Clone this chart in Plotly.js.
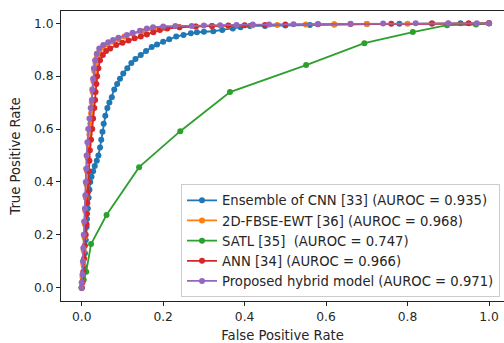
<!DOCTYPE html>
<html>
<head>
<meta charset="utf-8">
<script src="https://cdn.plot.ly/plotly-3.0.1.min.js"></script>
<style>html,body{margin:0;padding:0;overflow:hidden;background:#fff;}</style>
</head>
<body>
<div id="chart" style="width:504px;height:343px;"></div>
<script>
const seriesNames = [
  "Ensemble of CNN [33] (AUROC = 0.935)",
  "2D-FBSE-EWT [36] (AUROC = 0.968)",
  "SATL [35]  (AUROC = 0.747)",
  "ANN [34] (AUROC = 0.966)",
  "Proposed hybrid model (AUROC = 0.971)"
];
const seriesColors = ["#1f77b4", "#ff7f0e", "#2ca02c", "#d62728", "#9467bd"];

const cnnFpr = [0,0.003,0.006,0.008,0.010,0.012,0.013,0.015,0.017,0.019,0.021,0.024,0.028,0.032,0.037,0.041,0.045,0.048,0.051,0.054,0.058,0.063,0.068,0.074,0.080,0.087,0.094,0.102,0.112,0.122,0.132,0.145,0.158,0.172,0.185,0.200,0.215,0.232,0.250,0.268,0.283,0.300,0.323,0.345,0.371,0.390,0.413,0.45,0.50,0.56,0.62,0.70,0.78,0.86,0.93,1.0];
const cnnTpr = [0,0.03,0.08,0.13,0.18,0.23,0.26,0.30,0.34,0.37,0.40,0.42,0.44,0.46,0.48,0.50,0.53,0.56,0.59,0.62,0.65,0.68,0.70,0.72,0.75,0.77,0.79,0.81,0.83,0.85,0.865,0.88,0.895,0.91,0.92,0.93,0.94,0.95,0.956,0.962,0.966,0.968,0.970,0.975,0.980,0.985,0.99,0.99,0.992,0.994,0.995,0.997,0.998,0.999,1.0,1.0];

const fbseFpr = [0,0.002,0.004,0.005,0.007,0.008,0.009,0.010,0.012,0.013,0.015,0.017,0.019,0.021,0.023,0.025,0.027,0.029,0.031,0.034,0.038,0.044,0.052,0.062,0.075,0.090,0.105,0.125,0.150,0.175,0.20,0.24,0.28,0.32,0.36,0.42,0.48,0.55,0.62,0.70,0.80,0.90,1.0];
const fbseTpr = [0,0.04,0.09,0.14,0.19,0.24,0.29,0.34,0.39,0.44,0.49,0.54,0.58,0.62,0.66,0.70,0.74,0.78,0.82,0.85,0.875,0.895,0.91,0.92,0.93,0.94,0.95,0.96,0.97,0.978,0.982,0.985,0.988,0.99,0.991,0.993,0.994,0.995,0.996,0.997,0.998,0.999,1.0];

const satlFpr = [0,0.005,0.011,0.023,0.061,0.141,0.242,0.364,0.551,0.694,0.813,0.897,0.968,1.0];
const satlTpr = [0,0.03,0.06,0.165,0.275,0.456,0.592,0.74,0.842,0.925,0.967,0.993,0.995,1.0];

const annFpr = [0,0.002,0.004,0.006,0.008,0.010,0.012,0.013,0.014,0.015,0.016,0.018,0.019,0.020,0.023,0.026,0.028,0.031,0.033,0.034,0.036,0.038,0.041,0.045,0.052,0.060,0.070,0.085,0.100,0.115,0.130,0.145,0.160,0.176,0.192,0.21,0.24,0.28,0.32,0.36,0.40,0.45,0.50,0.58,0.66,0.76,0.86,0.95,1.0];
const annTpr = [0,0.02,0.06,0.11,0.16,0.20,0.24,0.28,0.32,0.36,0.40,0.44,0.48,0.52,0.56,0.60,0.64,0.68,0.71,0.74,0.77,0.80,0.83,0.86,0.88,0.895,0.905,0.918,0.926,0.935,0.943,0.95,0.958,0.966,0.975,0.98,0.985,0.988,0.99,0.992,0.993,0.994,0.995,0.996,0.997,0.998,0.999,1.0,1.0];

const hybridFpr = [0,0.000,0.002,0.003,0.004,0.005,0.006,0.008,0.009,0.010,0.011,0.012,0.014,0.016,0.019,0.022,0.025,0.026,0.028,0.030,0.033,0.037,0.043,0.053,0.065,0.077,0.090,0.111,0.125,0.143,0.160,0.175,0.200,0.23,0.27,0.30,0.34,0.38,0.42,0.46,0.52,0.58,0.66,0.74,0.82,0.90,0.97,1.0];
const hybridTpr = [0,0.02,0.05,0.10,0.15,0.20,0.25,0.30,0.35,0.40,0.45,0.50,0.55,0.60,0.64,0.68,0.71,0.75,0.79,0.83,0.86,0.885,0.905,0.918,0.928,0.937,0.945,0.956,0.964,0.972,0.98,0.985,0.988,0.99,0.99,0.992,0.993,0.994,0.995,0.995,0.996,0.997,0.998,0.999,1.0,1.0,1.0,1.0];

const xs = [cnnFpr, fbseFpr, satlFpr, annFpr, hybridFpr];
const ys = [cnnTpr, fbseTpr, satlTpr, annTpr, hybridTpr];

const traces = xs.map((x, i) => ({
  x: x, y: ys[i], type: "scatter", mode: "lines+markers",
  name: seriesNames[i],
  line: {color: seriesColors[i], width: 1.8},
  marker: {color: seriesColors[i], size: 6}
}));

const tickFont = {family: "DejaVu Sans, sans-serif", size: 12.3, color: "#262626"};
const labelFont = {family: "DejaVu Sans, sans-serif", size: 13.2, color: "#262626"};

const layout = {
  width: 504, height: 343,
  margin: {l: 61, r: 0, t: 11, b: 42, pad: 0},
  paper_bgcolor: "#fff", plot_bgcolor: "#fff",
  font: tickFont,
  showlegend: true,
  legend: {
    x: 0.991, y: 0.013, xanchor: "right", yanchor: "bottom",
    bgcolor: "rgba(255,255,255,0.9)", bordercolor: "#cccccc", borderwidth: 1,
    font: labelFont, tracegroupgap: 0
  },
  xaxis: {
    range: [-0.0508, 1.0368],
    tickvals: [0, 0.2, 0.4, 0.6, 0.8, 1.0],
    ticktext: ["0.0", "0.2", "0.4", "0.6", "0.8", "1.0"],
    tickfont: tickFont,
    showgrid: false, zeroline: false,
    showline: true, mirror: true, linecolor: "#222", linewidth: 1,
    ticks: "outside", ticklen: 4, tickcolor: "#222",
    title: {text: "False Positive Rate", font: labelFont, standoff: 8}
  },
  yaxis: {
    range: [-0.0503, 1.0465],
    tickvals: [0, 0.2, 0.4, 0.6, 0.8, 1.0],
    ticktext: ["0.0", "0.2", "0.4", "0.6", "0.8", "1.0"],
    tickfont: tickFont,
    showgrid: false, zeroline: false,
    showline: true, mirror: false, linecolor: "#222", linewidth: 1,
    ticks: "outside", ticklen: 4, tickcolor: "#222",
    title: {text: "True Positive Rate", font: labelFont, standoff: 10}
  }
};

Plotly.newPlot("chart", traces, layout, {displayModeBar: false, staticPlot: true});
</script>
</body>
</html>
